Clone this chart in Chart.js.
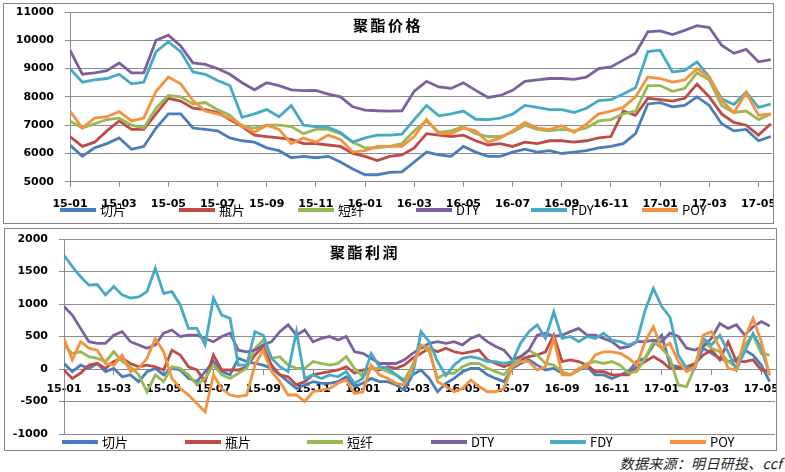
<!DOCTYPE html>
<html>
<head>
<meta charset="utf-8">
<script src="https://cdn.jsdelivr.net/npm/chart.js@4.4.0/dist/chart.umd.min.js"></script>
<style>
body { margin: 0; background: #fff; width: 785px; height: 472px; position: relative; overflow: hidden; font-family: "Noto Sans CJK SC", sans-serif; }
.panel { position: absolute; box-sizing: border-box; border: 1px solid #868686; }
.panel canvas { position: absolute; left: 0; top: 0; }
.title { position: absolute; font-weight: bold; font-size: 15px; letter-spacing: 2.5px; color: #000; white-space: nowrap; line-height: 18px; }
.legend { position: absolute; font-size: 13px; color: #000; white-space: nowrap; line-height: 18px; height: 18px; }
.legend .mark { display: inline-block; width: 36px; height: 4px; vertical-align: middle; margin-right: 4px; position: relative; top: -1px; }
.source { position: absolute; right: 3px; top: 453px; font-size: 14px; letter-spacing: 0.3px; font-style: italic; color: #222; white-space: nowrap; }
</style>
</head>
<body>
<div class="panel" style="left:3px;top:3px;width:771px;height:221px;">
  <canvas id="priceChart" width="769" height="219"></canvas>
</div>
<div class="panel" style="left:4px;top:228px;width:773px;height:223px;">
  <canvas id="profitChart" width="771" height="221"></canvas>
</div>
<div class="title" style="left:353px;top:16px;">聚酯价格</div>
<div class="title" style="left:330px;top:243px;">聚酯利润</div>
<div id="legendTop"></div>
<div id="legendBottom"></div>
<div class="source">数据来源：明日研投、ccf</div>

<script>
// axis labels, one every two months starting at 2015-01
const tickLabels = ['15-01', '15-03', '15-05', '15-07', '15-09', '15-11', '16-01', '16-03', '16-05', '16-07', '16-09', '16-11', '17-01', '17-03', '17-05'];
const tickMonths = [0, 2, 4, 6, 8, 10, 12, 14, 16, 18, 20, 22, 24, 26, 28];

const seriesNames = ['切片', '瓶片', '短纤', 'DTY', 'FDY', 'POY'];
const seriesColors = ['#4A7EBB', '#BE4B48', '#98B954', '#7D60A0', '#46AAC5', '#F59240'];

// 聚酯价格, one reading every half month
const priceStep = 0.5;
const priceQiepian = [6300, 5900, 6200, 6350, 6550, 6150, 6250, 6900, 7400, 7400, 6900, 6850, 6800, 6550, 6450, 6400, 6200, 6100, 5850, 5900, 5850, 5900, 5700, 5450, 5250, 5250, 5330,
  5350, 5700, 6050, 5950, 5900, 6250, 6050, 5900, 5900, 6050, 6150, 6050, 6100, 6000, 6050, 6100, 6200, 6250, 6350, 6700, 7750, 7800, 7650, 7700, 8000, 7700, 7050, 6800, 6850, 6450, 6600];
const pricePingpian = [6600, 6250, 6400, 6800, 7150, 6850, 6850, 7400, 7950, 7850, 7600, 7550, 7450, 7200, 6950, 6650, 6600, 6550, 6500, 6350, 6350, 6300, 6250, 6000, 5900, 5750, 5900,
  5950, 6200, 6700, 6650, 6600, 6650, 6450, 6300, 6350, 6250, 6400, 6350, 6450, 6450, 6400, 6450, 6550, 6600, 7500, 7350, 7950, 7900, 7850, 7950, 8450, 8000, 7400, 7100, 7000, 6650, 7050];
const priceDuanxian = [7150, 6900, 7050, 7200, 7250, 7000, 6900, 7600, 8050, 8000, 7750, 7800, 7550, 7350, 6950, 6900, 7000, 7000, 6950, 6700, 6850, 6850, 6700, 6400, 6200, 6200, 6250,
  6350, 6800, 7150, 6750, 6800, 6950, 6700, 6600, 6600, 6750, 7000, 6850, 6800, 6850, 6800, 6900, 7150, 7200, 7400, 7500, 8400, 8400, 8200, 8300, 8850, 8600, 7700, 7450, 7500, 7200, 7400];
const priceDTY = [9650, 8800, 8850, 8930, 9200, 8850, 8850, 10000, 10180, 9800, 9200, 9150, 9000, 8800, 8500, 8250, 8500, 8400, 8250, 8220, 8230, 8100, 8000, 7650, 7530, 7510, 7500,
  7510, 8200, 8550, 8350, 8300, 8500, 8230, 7980, 8050, 8230, 8550, 8600, 8650, 8650, 8620, 8700, 9000, 9060, 9300, 9540, 10300, 10330, 10200, 10350, 10520, 10450, 9830, 9540, 9680, 9240, 9320];
const priceFDY = [9000, 8520, 8600, 8650, 8800, 8460, 8520, 9600, 9950, 9600, 8880, 8800, 8580, 8400, 7280, 7400, 7550, 7300, 7700, 7000, 6950, 6920, 6740, 6400, 6550, 6650, 6650,
  6680, 7200, 7700, 7330, 7400, 7500, 7210, 7200, 7250, 7390, 7700, 7630, 7550, 7550, 7450, 7600, 7870, 7900, 8100, 8320, 9600, 9650, 8880, 8940, 9240, 8700, 7930, 7730, 8170, 7630, 7750];
const pricePOY = [7500, 6900, 7250, 7300, 7480, 7150, 7250, 8200, 8700, 8460, 7870, 7500, 7400, 7250, 7000, 6750, 7000, 6850, 6350, 6550, 6400, 6650, 6500, 6050, 6100, 6250, 6250,
  6250, 6600, 7200, 6700, 6700, 6900, 6800, 6400, 6550, 6800, 7100, 6900, 6850, 6980, 6750, 7040, 7400, 7500, 7630, 8000, 8700, 8650, 8520, 8600, 9000, 8700, 7870, 7450, 8150, 7350, 7400];

// 聚酯利润, one reading every third of a month
const profitStep = 1 / 3;
const profitQiepian = [85, -40, 60, 10, 85, -40, 10, -120, -90, -195, -40, 10, -90, 10, -15, -145, -195, -40, 115, -40, -90, 165,
  115, 85, 60, 10, -90, -195, -300, -245, -195, -220, -220, -195, -120, -270, -220, -145, -195, -195, -245, -325, -90, -15,
  -145, -350, -220, -145, -40, 10, 10, -90, -145, -195, 10, 85, 140, 60, -15, 10, -65, -90, -15, 35, -90,
  -90, -145, -90, -40, 115, 165, 370, 520, 60, 35, 10, 60, 320, 240, 165, 115, 140, 290, 215, 60, -195];
const profitPingpian = [-15, -145, -65, 60, 85, 10, 115, 165, 85, 35, 60, 35, -15, 290, 215, 35, -15, -195, 215, -15, -15, -15,
  35, 215, 345, 60, -90, -120, -245, -195, -90, -65, -40, -15, 35, -65, -15, 10, -15, 35, 10, 60, 165, 240,
  320, 265, 320, 265, 240, 265, 290, 140, 85, 35, 85, 140, 190, 215, 265, 520, 115, 140, 115, 60, -40,
  -40, -90, -90, -90, 35, 115, 190, 115, 10, 10, 35, 85, 215, 290, 140, 420, 115, 115, 140, -15, -40];
const profitDuanxian = [370, 240, 265, 190, 165, 115, 265, 115, 35, -90, -350, -90, -195, 35, 10, -90, -245, -145, 60, -90, -145, -65,
  10, 320, 445, 165, 190, 60, 10, 10, 115, 85, 60, 85, 190, 10, -120, 10, 10, -40, -90, -170, 60, 370,
  265, -145, -65, -65, 35, 85, 85, 10, -40, -90, 60, 165, 290, 215, 85, 60, -40, -90, -15, 85, 115,
  85, 115, 60, -65, -40, 165, 420, 320, 165, -245, -270, 35, 420, 320, 265, 115, 35, 370, 520, 240, 215];
const profitDTY = [960, 830, 625, 420, 395, 395, 520, 575, 420, 370, 320, 370, 550, 600, 500, 520, 520, 470, 420, 500, 550, 290,
  265, 290, 370, 420, 575, 680, 520, 600, 420, 470, 500, 445, 500, 265, 240, 165, 85, 85, 85, 140, 240, 320,
  395, 420, 395, 420, 370, 470, 520, 420, 345, 290, 140, 190, 290, 520, 550, 500, 520, 575, 625, 520, 520,
  470, 420, 320, 345, 420, 420, 445, 420, 550, 500, 320, 290, 345, 470, 700, 625, 680, 520, 650, 730, 660];
const profitFDY = [1750, 1575, 1420, 1290, 1300, 1140, 1270, 1140, 1090, 1110, 1190, 1550, 1165, 1190, 985, 625, 625, 370, 1090, 830, 780, 60,
  60, 575, 520, 165, 35, -40, 575, -145, -90, -145, -90, -120, -40, -220, -145, 240, 35, 10, -90, -195, -90, 575,
  420, 115, -100, 60, 165, 190, 165, 115, 115, 85, 115, 395, 575, 680, 470, 880, 470, 500, 420, 500, 470,
  550, 445, 420, 370, 420, 900, 1240, 960, 800, 215, 10, 10, 470, 370, 520, 265, -15, 265, 550, 320, -90];
const profitPOY = [470, 140, 420, 320, 290, 85, 60, 215, -40, 10, 165, 470, 265, -145, -300, -400, -530, -660, -90, -300, -400, -425,
  -400, 60, 290, -40, -195, -400, -400, -500, -350, -325, -300, -220, -170, -375, -350, 60, -90, -145, -220, -245, 35, 370,
  320, -195, -270, -350, -300, -170, -270, -350, -350, -300, 35, 115, 115, -15, 35, 470, -90, -90, 10, 35, 215,
  265, 265, 240, 165, 60, 420, 650, 320, 395, 115, -40, 35, 520, 575, 320, 10, -15, 470, 780, 420, -100];

const tickFont = { family: 'DejaVu Sans', size: 11, weight: 'bold' };
const gridColor = '#8c8c8c';

function toPoints(values, step) {
  return values.map((v, i) => ({ x: i * step, y: v }));
}

function makeDatasets(seriesValues, step) {
  return seriesValues.map((values, i) => ({
    label: seriesNames[i],
    data: toPoints(values, step),
    borderColor: seriesColors[i],
    backgroundColor: seriesColors[i],
    borderWidth: 2.8,
    pointRadius: 0,
    tension: 0,
    order: 5 - i
  }));
}

function xScale(labelPad, extra) {
  return Object.assign({
    type: 'linear',
    min: 0,
    max: 28.55,
    afterBuildTicks: s => { s.ticks = tickMonths.map(v => ({ value: v })); },
    afterFit: s => { s.paddingLeft = 0; s.paddingRight = 0; },
    ticks: {
      autoSkip: false,
      maxRotation: 0,
      padding: labelPad,
      font: tickFont,
      color: '#000',
      callback: (v, i) => tickLabels[i]
    },
    grid: { drawOnChartArea: false, tickLength: 5, color: gridColor },
    border: { color: gridColor }
  }, extra);
}

function yScale(min, max, step, width) {
  return {
    min: min,
    max: max,
    ticks: { stepSize: step, padding: 11, font: tickFont, color: '#000', callback: v => String(v) },
    grid: { color: gridColor, tickLength: 5 },
    border: { color: gridColor },
    afterFit: s => { s.width = width; s.paddingTop = 0; s.paddingBottom = 0; }
  };
}

const commonOptions = {
  responsive: false,
  animation: false,
  devicePixelRatio: 1,
  plugins: { legend: { display: false }, tooltip: { enabled: false }, title: { display: false } }
};

const ctx1 = document.getElementById('priceChart').getContext('2d');
const priceChart = new Chart(ctx1, {
  type: 'line',
  data: { datasets: makeDatasets([priceQiepian, pricePingpian, priceDuanxian, priceDTY, priceFDY, pricePOY], priceStep) },
  options: Object.assign({}, commonOptions, {
    layout: { padding: { left: 0, right: 1, top: 8, bottom: 1 } },
    scales: {
      x: xScale(11, {}),
      y: yScale(5000, 11000, 1000, 66)
    }
  })
});

const ctx2 = document.getElementById('profitChart').getContext('2d');
const profitChart = new Chart(ctx2, {
  type: 'line',
  data: { datasets: makeDatasets([profitQiepian, profitPingpian, profitDuanxian, profitDTY, profitFDY, profitPOY], profitStep) },
  options: Object.assign({}, commonOptions, {
    layout: { padding: { left: 0, right: 1, top: 10, bottom: 16 } },
    scales: {
      x: xScale(9, { position: { y: 0 } }),
      y: yScale(-1000, 2000, 500, 59)
    }
  })
});

// legends laid out like the Excel originals
function buildLegend(id, lefts, centerY) {
  const box = document.getElementById(id);
  seriesNames.forEach((name, i) => {
    const item = document.createElement('div');
    item.className = 'legend';
    item.style.left = lefts[i] + 'px';
    item.style.top = (centerY - 9) + 'px';
    item.innerHTML = '<span class="mark" style="background:' + seriesColors[i] + '"></span>' + name;
    box.appendChild(item);
  });
}
buildLegend('legendTop', [60, 179, 298, 416, 531, 642], 210);
buildLegend('legendBottom', [62, 185, 307, 431, 550, 670], 442);
</script>
</body>
</html>
